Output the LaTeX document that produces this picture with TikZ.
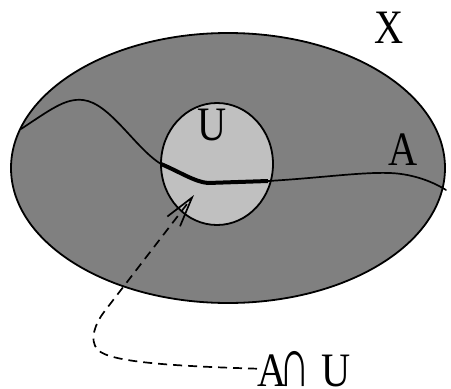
\documentclass[tikz,border=0pt]{standalone}
\usepackage{fontspec}
\setmainfont{Liberation Serif}
\usetikzlibrary{arrows.meta,shapes.geometric}
\definecolor{outergray}{HTML}{808080}
\definecolor{innergray}{HTML}{C0C0C0}
\tikzset{
  region/.style={draw=black, line width=1.8pt, shape=ellipse, inner sep=0pt},
  curveA/.style={line width=1.7pt, line cap=round},
  thickpart/.style={line width=4pt},
  lab/.style={inner sep=0pt, anchor=base, font=\fontsize{48}{48}\selectfont},
  pointer/.style={dashed, dash pattern=on 9pt off 6pt, line width=1.7pt,
    -{Straight Barb[length=30pt,width=16pt,line width=1.7pt]}}
}
\newcommand{\sq}[1]{\scalebox{0.84}[1]{#1}}
\begin{document}
\begin{tikzpicture}[x=1pt,y=-1pt]
\useasboundingbox (0,0) rectangle (451,389);
% outer region X
\node[region, fill=outergray, minimum width=434pt, minimum height=270pt] (X) at (228,168) {};
% subset U
\node[region, fill=innergray, minimum width=112pt, minimum height=122pt] (U) at (217,164) {};
% curve A
\coordinate (a0) at (21,129);
\coordinate (a1) at (161,164);
\coordinate (a2) at (208,183);
\coordinate (a3) at (268,181);
\coordinate (a4) at (446,190);
\draw[curveA] (a0) .. controls (50,110) and (65,98) .. (83,100)
  .. controls (110,103) and (135,148) .. (a1);
\draw[thickpart] (a1) .. controls (180,172) and (195,182) .. (a2) -- (a3);
\draw[curveA] (a3) .. controls (320,178) and (360,172) .. (390,173)
  .. controls (415,174) and (435,183) .. (a4);
% labels
\node[lab] (lX) at (389.5,43) {\sq{X}};
\node[lab] (lA) at (403,165) {\sq{A}};
\node[lab] (lU) at (212,140) {\sq{U}};
\node[lab, anchor=base west] (lAU) at (257,386) {\sq{A\kern-8pt\scalebox{1.05}[1.45]{∩}\kern14pt U}};
% pointer
\coordinate (tip) at (194,195);
\draw[pointer] (lAU.west) .. controls (170,366) and (110,362) .. (98,350)
  .. controls (88,340) and (96.3,322) .. (104,312) -- (tip);
\end{tikzpicture}
\end{document}
